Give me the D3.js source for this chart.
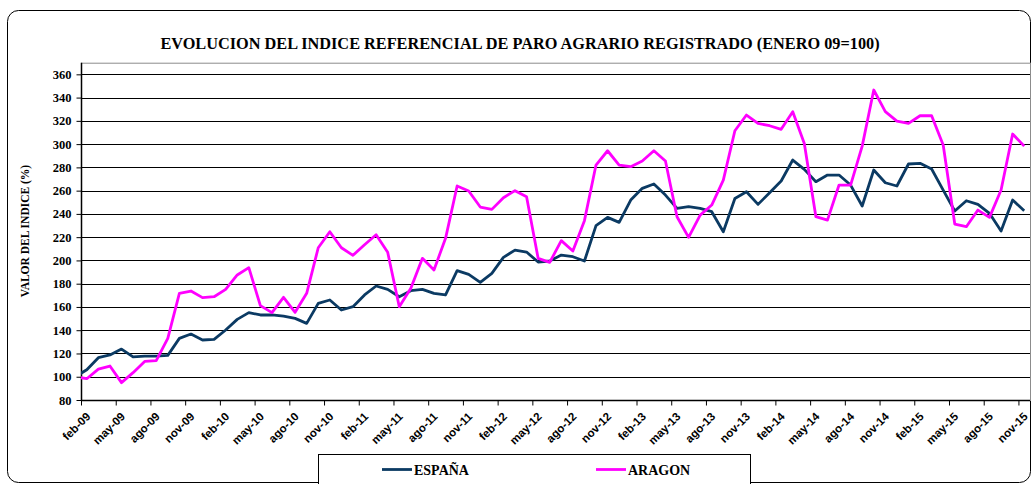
<!DOCTYPE html>
<html>
<head>
<meta charset="utf-8">
<script src="https://cdn.jsdelivr.net/npm/d3@7"></script>
<style>
  html, body { margin: 0; padding: 0; background: #fff; }
  svg { display: block; }
</style>
</head>
<body>
<svg id="chart" width="1034" height="484"></svg>
<script>
// Monthly index values, ene-09 = 100 (first value) through nov-15
const espana = [
  100, 106, 116.4, 118.7, 123.8, 117, 117.8, 117.8, 118.4, 133, 136.7, 131.6,
  132.2, 140.2, 149.3, 155.1, 153.1, 153.1, 152.2, 150.2, 145.9, 163.1, 166, 157.4,
  160.2, 170.3, 178, 175.1, 168.8, 174, 175.1, 171.7, 170.3, 191.2, 188, 181.2,
  188.9, 202.6, 208.9, 207.2, 198.6, 199.5, 204.6, 203.2, 199.5, 229.9, 237, 232.7,
  251.9, 262, 265.7, 256.2, 244.8, 246.2, 244.8, 241.9, 224.7, 253.3, 259.1, 248.2,
  258.2, 268.3, 286.3, 278.3, 267.7, 273.4, 273.4, 264.8, 246.8, 277.7, 266.8, 264,
  282.9, 283.5, 278.6, 260.5, 242.5, 251.3, 248.2, 240.5, 225.3, 251.9, 242.7
];
const aragon = [
  100, 98.3, 106.6, 109.2, 94.9, 103.5, 113.2, 113.8, 133, 171.7, 173.7, 168,
  168.8, 175.1, 187.5, 193.8, 161.1, 155.1, 168.3, 155.4, 171.7, 210.9, 224.7, 210.9,
  204.4, 213.5, 222.1, 207, 160.2, 176, 201.8, 191.8, 219, 264, 259.7, 245.9,
  243.9, 253.9, 260, 254.8, 201.8, 198.3, 217, 208.1, 234.2, 282, 294.3, 282,
  280.6, 285.5, 294.3, 285.5, 237.6, 219.8, 239, 247.6, 269.1, 311.5, 325, 317.8,
  315.8, 312.7, 327.9, 300.6, 237.6, 234.7, 264.8, 264.8, 298.3, 346.5, 327.9, 319.8,
  317.8, 324.4, 324.4, 299.2, 231.3, 229, 243.3, 237, 260.5, 308.7, 298.3
];
const seriesNames = ["ESPAÑA", "ARAGON"];
const seriesColors = ["#0b3a63", "#ff00ff"];

// Axis tick labels (every third month, starting feb-09)
const tickLabels = [
  "feb-09", "may-09", "ago-09", "nov-09", "feb-10", "may-10", "ago-10", "nov-10",
  "feb-11", "may-11", "ago-11", "nov-11", "feb-12", "may-12", "ago-12", "nov-12",
  "feb-13", "may-13", "ago-13", "nov-13", "feb-14", "may-14", "ago-14", "nov-14",
  "feb-15", "may-15", "ago-15", "nov-15"
];
const yTicks = [80, 100, 120, 140, 160, 180, 200, 220, 240, 260, 280, 300, 320, 340, 360];

const title = "EVOLUCION DEL INDICE REFERENCIAL DE PARO AGRARIO REGISTRADO (ENERO 09=100)";
const yTitle = "VALOR DEL INDICE (%)";

const serif = "'Liberation Serif', 'Times New Roman', serif";
const sans = "'Liberation Sans', Arial, sans-serif";

const svg = d3.select("#chart");
const plot = { left: 81, right: 1030, top: 62.7, bottom: 400 };

// Month index: ene-09 = 0; each value sits mid-month
const x = d3.scaleLinear().domain([1, 83]).range([plot.left, plot.right]);
const y = d3.scaleLinear().domain([80, 370]).range([plot.bottom, plot.top]);

// Outer rounded frame
svg.append("rect")
  .attr("x", 7.5).attr("y", 10.5).attr("width", 1023).attr("height", 472)
  .attr("rx", 11).attr("ry", 11)
  .attr("fill", "none").attr("stroke", "#000").attr("stroke-width", 1);

// Title
svg.append("text")
  .attr("x", 520).attr("y", 49)
  .attr("text-anchor", "middle")
  .attr("font-family", serif)
  .attr("font-weight", "bold").attr("font-size", 16.3)
  .text(title);

// Plot area border
svg.append("rect")
  .attr("x", plot.left + 0.5).attr("y", plot.top + 0.5)
  .attr("width", plot.right - plot.left).attr("height", plot.bottom - plot.top)
  .attr("fill", "none").attr("stroke", "#8c8c8c").attr("stroke-width", 1);

// Horizontal gridlines
svg.append("g").selectAll("line")
  .data(yTicks.filter(d => d > 80))
  .join("line")
  .attr("x1", plot.left).attr("x2", plot.right)
  .attr("y1", d => Math.round(y(d)) + 0.5).attr("y2", d => Math.round(y(d)) + 0.5)
  .attr("stroke", "#000").attr("stroke-width", 1);

// Y axis
const yAxis = svg.append("g")
  .attr("transform", `translate(${plot.left + 0.5},0)`)
  .call(d3.axisLeft(y).tickValues(yTicks).tickSize(5).tickPadding(5).tickSizeOuter(0));
yAxis.select(".domain").attr("stroke", "#000").attr("stroke-width", 1.5)
  .attr("d", `M0,${plot.top}V${plot.bottom}`);
yAxis.selectAll(".tick line").attr("stroke", "#000");
yAxis.selectAll(".tick text")
  .attr("font-family", serif)
  .attr("font-weight", "bold").attr("font-size", 12.5).attr("fill", "#000");

// X axis
const xTickVals = tickLabels.map((_, i) => 1 + i * 3);
const xAxis = svg.append("g")
  .attr("transform", `translate(0,${plot.bottom + 0.5})`)
  .call(d3.axisBottom(x).tickValues(xTickVals).tickSize(5).tickSizeOuter(0)
    .tickFormat((d, i) => tickLabels[i]));
xAxis.select(".domain").attr("stroke", "#000").attr("stroke-width", 1.5)
  .attr("d", `M${plot.left},0H${plot.right}`);
xAxis.selectAll(".tick line").attr("stroke", "#000");
xAxis.selectAll(".tick text")
  .attr("font-family", sans)
  .attr("font-weight", "bold").attr("font-size", 11.5).attr("fill", "#000")
  .attr("text-anchor", "end")
  .attr("dy", null)
  .attr("transform", "translate(4,11) rotate(-45)");

// Y axis title
svg.append("text")
  .attr("transform", "translate(29,231) rotate(-90)")
  .attr("text-anchor", "middle")
  .attr("font-family", serif)
  .attr("font-weight", "bold").attr("font-size", 11.5)
  .text(yTitle);

// Series lines, clipped to the plot area
svg.append("clipPath").attr("id", "plotClip")
  .append("rect")
  .attr("x", plot.left).attr("y", plot.top)
  .attr("width", plot.right - plot.left).attr("height", plot.bottom - plot.top);

const line = d3.line()
  .x((d, i) => x(i + 0.5))
  .y(d => y(d));

const lines = svg.append("g").attr("clip-path", "url(#plotClip)");
[espana, aragon].forEach((s, i) => {
  lines.append("path")
    .datum(s)
    .attr("d", line)
    .attr("fill", "none")
    .attr("stroke", seriesColors[i])
    .attr("stroke-width", 2.8)
    .attr("stroke-linejoin", "round");
});

// Legend
const legend = svg.append("g");
legend.append("rect")
  .attr("x", 318.5).attr("y", 454.5).attr("width", 432).attr("height", 40)
  .attr("fill", "#fff").attr("stroke", "#000").attr("stroke-width", 1);
const legendX = [382, 596];
seriesNames.forEach((name, i) => {
  legend.append("line")
    .attr("x1", legendX[i]).attr("x2", legendX[i] + 30)
    .attr("y1", 469.5).attr("y2", 469.5)
    .attr("stroke", seriesColors[i]).attr("stroke-width", 2.8);
  legend.append("text")
    .attr("x", legendX[i] + 32).attr("y", 475)
    .attr("font-family", serif)
    .attr("font-weight", "bold").attr("font-size", 14)
    .text(name);
});
</script>
</body>
</html>
